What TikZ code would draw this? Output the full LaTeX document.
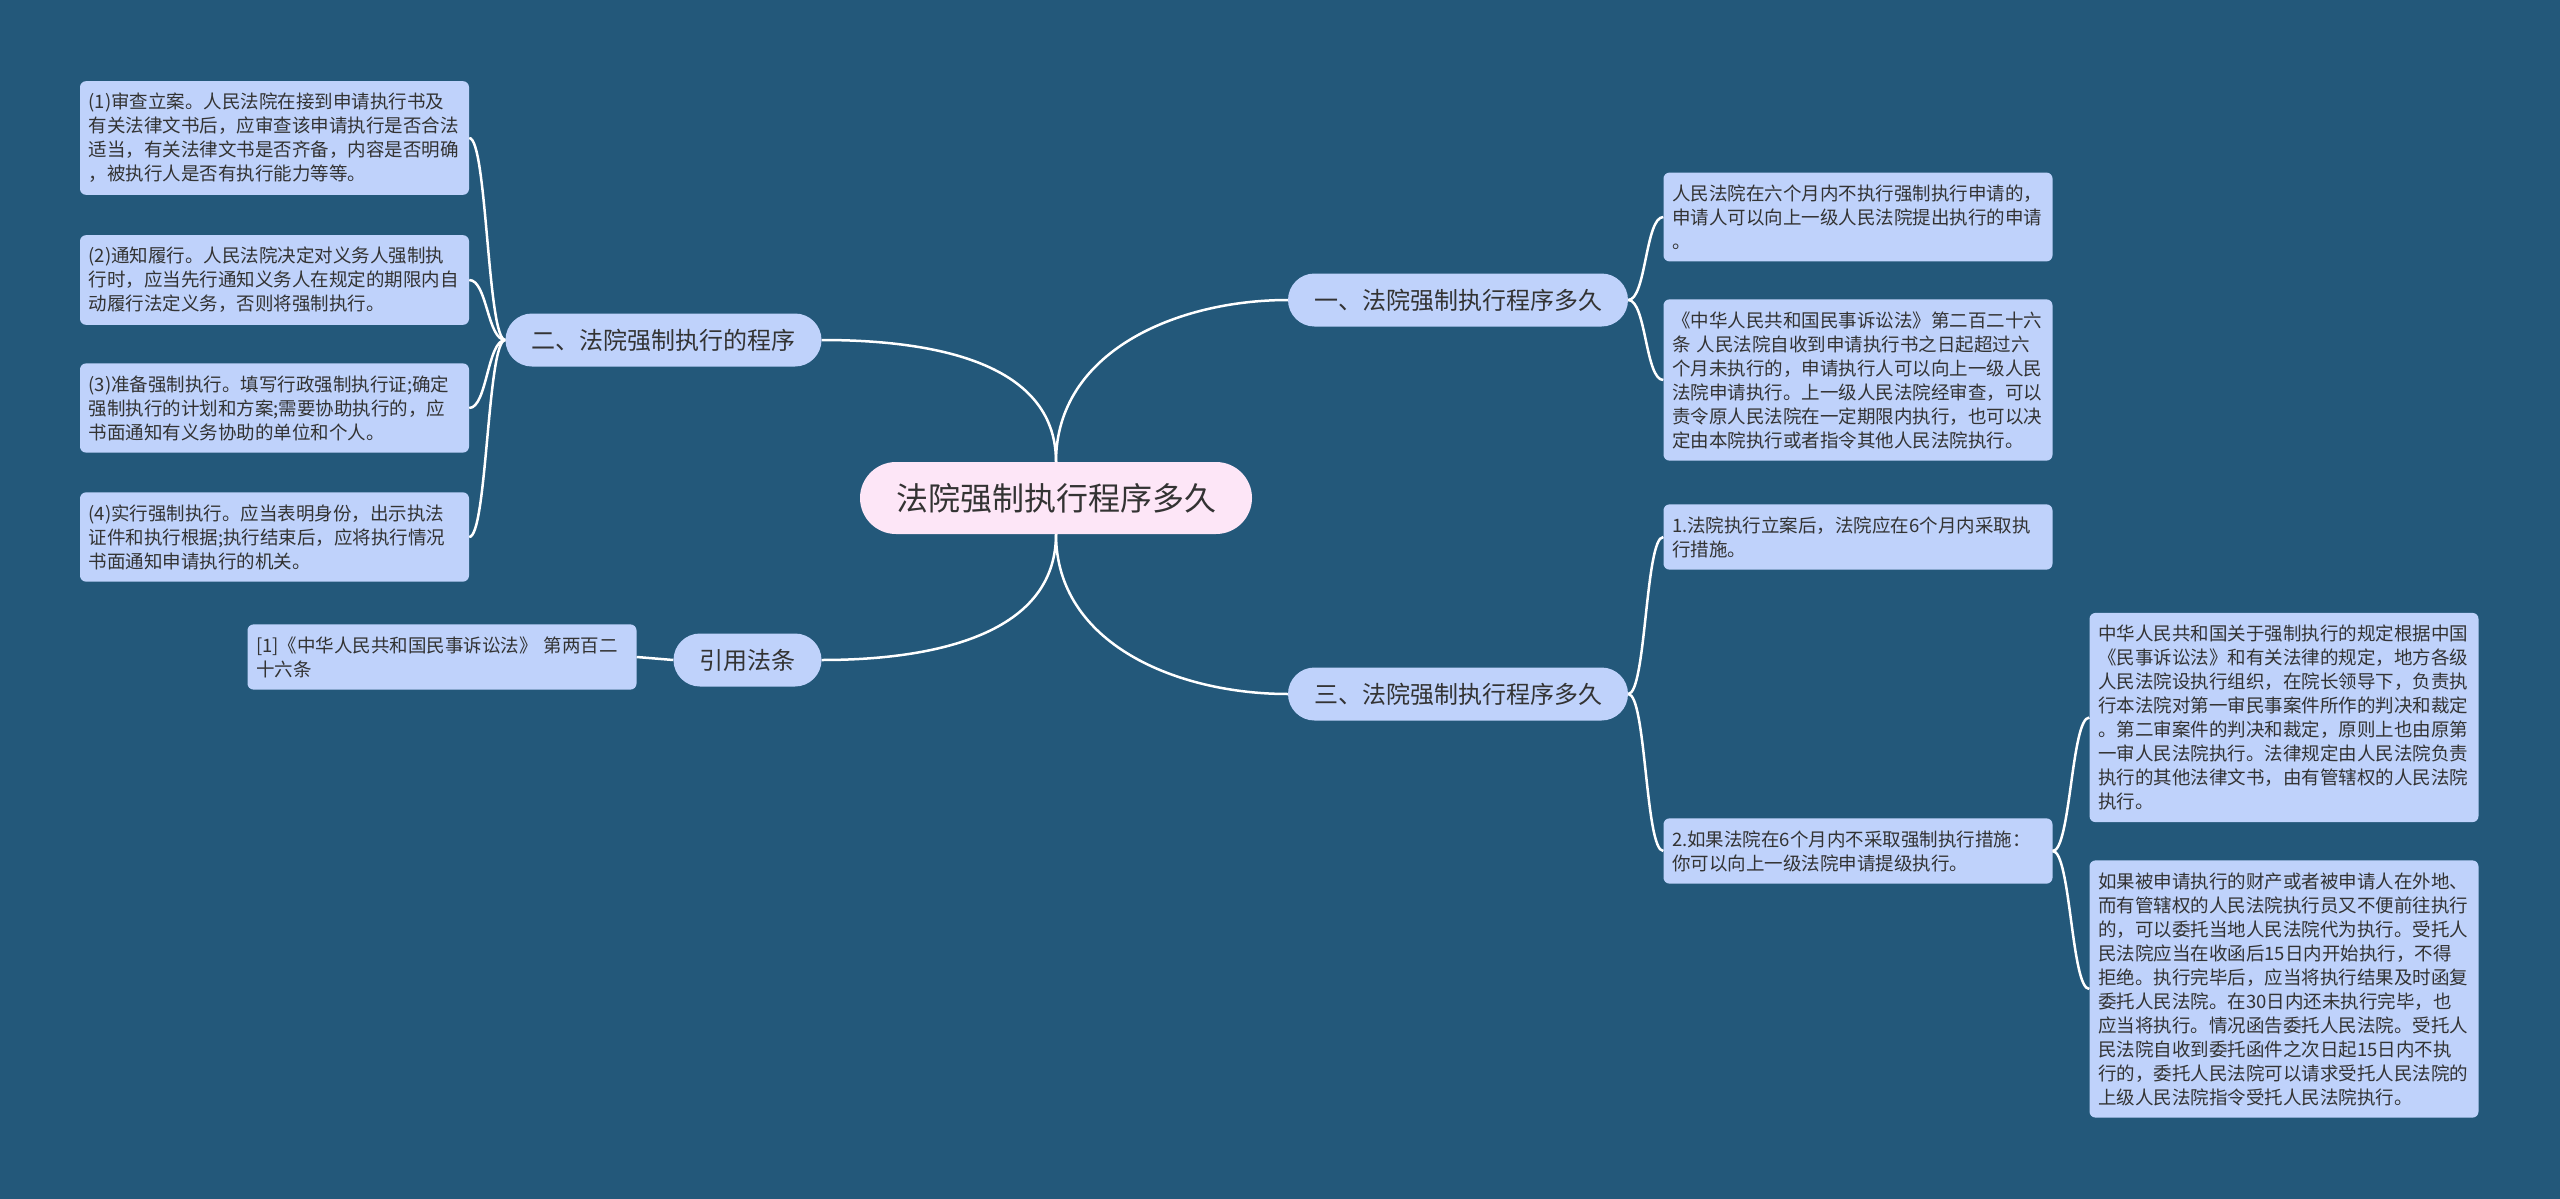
\documentclass[tikz,border=0pt]{standalone}
\usepackage{fontspec}
\usepackage{tikz}
\newfontfamily\cjk{Noto Sans CJK SC}
\definecolor{bg}{RGB}{35, 88, 122}
\definecolor{rootfill}{RGB}{253, 230, 247}
\definecolor{boxfill}{RGB}{191, 210, 251}
\definecolor{ink}{RGB}{51, 51, 51}
\usetikzlibrary{positioning}

\begin{document}
\begin{tikzpicture}[
  every node/.style={text=ink},
  root/.style={rectangle, rounded corners=36pt, fill=rootfill, minimum width=392pt, minimum height=72pt, font=\cjk\fontsize{32pt}{38pt}\selectfont},
  topic/.style={rectangle, rounded corners=26.5pt, fill=boxfill, inner xsep=26pt, minimum height=53pt, font=\cjk\fontsize{24pt}{28pt}\selectfont},
  leaf/.style={rectangle, rounded corners=6pt, fill=boxfill, inner xsep=8.5pt, inner ysep=12pt, text width=372pt, align=left, font=\cjk\fontsize{18.5pt}{24pt}\selectfont},
  link/.style={line width=2.5pt, color=white},
  hook/.style={out distance=18pt, in distance=18pt}
]
\fill [bg] (0pt, 0pt) rectangle (2560pt, -1199pt);
\useasboundingbox (0pt, 0pt) rectangle (2560pt, -1199pt);

% centre and main topics
\node (0) [root] at (1056pt, -498pt) {法院强制执行程序多久};
\node (1) [topic] at (1458pt, -300pt) {一、法院强制执行程序多久};
\node (2) [topic] at (663.5pt, -340pt) {二、法院强制执行的程序};
\node (3) [topic] at (1458pt, -694pt) {三、法院强制执行程序多久};
\node (4) [topic] at (747.5pt, -660pt) {引用法条};

% left side
\node (21) [leaf] at (274.5pt, -138pt) {(1)审查立案。人民法院在接到申请执行书及\\有关法律文书后，应审查该申请执行是否合法\\适当，有关法律文书是否齐备，内容是否明确\\，被执行人是否有执行能力等等。};
\node (22) [leaf] at (274.5pt, -280pt) {(2)通知履行。人民法院决定对义务人强制执\\行时，应当先行通知义务人在规定的期限内自\\动履行法定义务，否则将强制执行。};
\node (23) [leaf] at (274.5pt, -408pt) {(3)准备强制执行。填写行政强制执行证;确定\\强制执行的计划和方案;需要协助执行的，应\\书面通知有义务协助的单位和个人。};
\node (24) [leaf] at (274.5pt, -537pt) {(4)实行强制执行。应当表明身份，出示执法\\证件和执行根据;执行结束后，应将执行情况\\书面通知申请执行的机关。};
\node (41) [leaf] at (442pt, -657pt) {[1]《中华人民共和国民事诉讼法》~第两百二\\十六条};

% right side
\node (11) [leaf] at (1858pt, -217pt) {人民法院在六个月内不执行强制执行申请的，\\申请人可以向上一级人民法院提出执行的申请\\。};
\node (12) [leaf] at (1858pt, -380pt) {《中华人民共和国民事诉讼法》第二百二十六\\条~人民法院自收到申请执行书之日起超过六\\个月未执行的，申请执行人可以向上一级人民\\法院申请执行。上一级人民法院经审查，可以\\责令原人民法院在一定期限内执行，也可以决\\定由本院执行或者指令其他人民法院执行。};
\node (31) [leaf] at (1858pt, -537pt) {1.法院执行立案后，法院应在6个月内采取执\\行措施。};
\node (32) [leaf] at (1858pt, -851pt) {2.如果法院在6个月内不采取强制执行措施：\\你可以向上一级法院申请提级执行。};
\node (321) [leaf] at (2284pt, -717.5pt) {中华人民共和国关于强制执行的规定根据中国\\《民事诉讼法》和有关法律的规定，地方各级\\人民法院设执行组织，在院长领导下，负责执\\行本法院对第一审民事案件所作的判决和裁定\\。第二审案件的判决和裁定，原则上也由原第\\一审人民法院执行。法律规定由人民法院负责\\执行的其他法律文书，由有管辖权的人民法院\\执行。};
\node (322) [leaf] at (2284pt, -989pt) {如果被申请执行的财产或者被申请人在外地、\\而有管辖权的人民法院执行员又不便前往执行\\的，可以委托当地人民法院代为执行。受托人\\民法院应当在收函后15日内开始执行，不得\\拒绝。执行完毕后，应当将执行结果及时函复\\委托人民法院。在30日内还未执行完毕，也\\应当将执行。情况函告委托人民法院。受托人\\民法院自收到委托函件之次日起15日内不执\\行的，委托人民法院可以请求受托人民法院的\\上级人民法院指令受托人民法院执行。};

% connectors
\draw [link] (0.north) to[out=90, in=180] (1.west);
\draw [link] (0.north) to[out=90, in=0] (2.east);
\draw [link] (0.south) to[out=270, in=180] (3.west);
\draw [link] (0.south) to[out=270, in=0] (4.east);
\draw [link] (1.east) to[out=0, in=180, hook] (11.west);
\draw [link] (1.east) to[out=0, in=180, hook] (12.west);
\draw [link] (2.west) to[out=180, in=0, hook] (21.east);
\draw [link] (2.west) to[out=180, in=0, hook] (22.east);
\draw [link] (2.west) to[out=180, in=0, hook] (23.east);
\draw [link] (2.west) to[out=180, in=0, hook] (24.east);
\draw [link] (3.east) to[out=0, in=180, hook] (31.west);
\draw [link] (3.east) to[out=0, in=180, hook] (32.west);
\draw [link] (32.east) to[out=0, in=180, hook] (321.west);
\draw [link] (32.east) to[out=0, in=180, hook] (322.west);
\draw [link] (4.west) to(41.east);
\end{tikzpicture}
\end{document}
